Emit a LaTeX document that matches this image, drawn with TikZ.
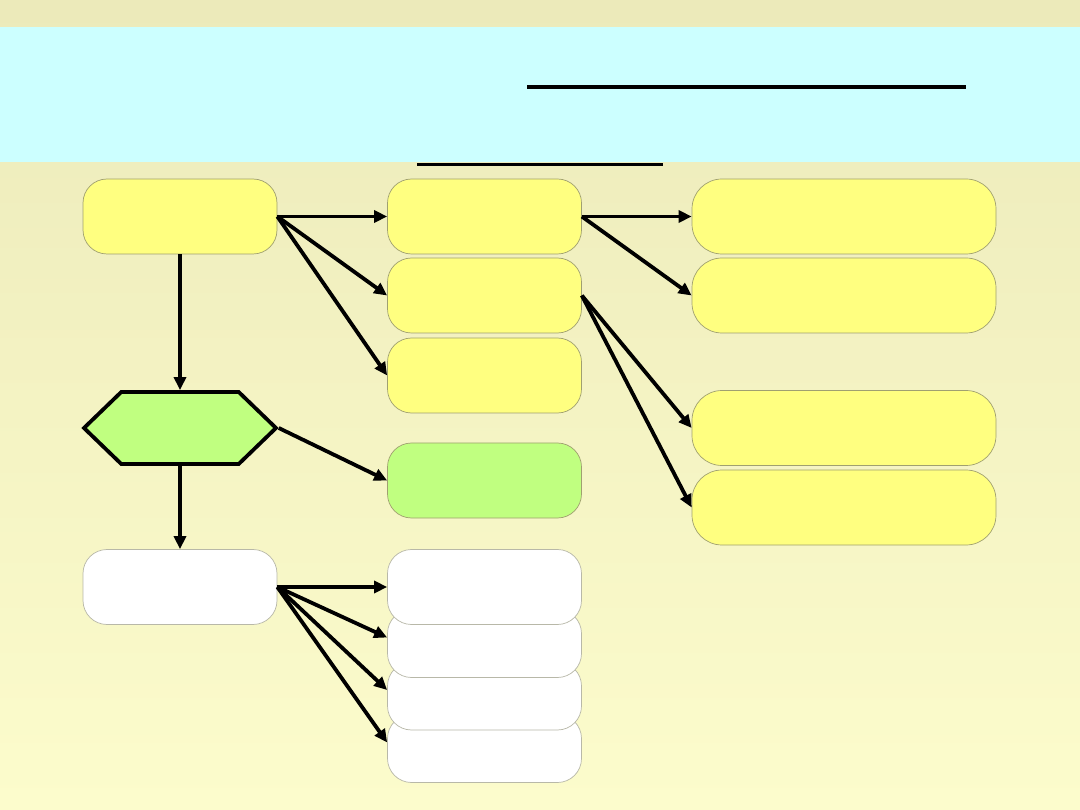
\documentclass[tikz,border=0pt]{standalone}
\usepackage{tikz}
\usetikzlibrary{positioning,arrows.meta,shapes.symbols}
\definecolor{bgTop}{HTML}{ECEABA}
\definecolor{bgBot}{HTML}{FCFCCC}
\definecolor{titleCyan}{HTML}{CCFFFF}
\definecolor{boxYellow}{HTML}{FFFF80}
\definecolor{boxGreen}{HTML}{C0FF80}
\definecolor{edgeGray}{HTML}{A0A070}
\definecolor{edgeLight}{HTML}{B8B8A8}

\begin{document}
\begin{tikzpicture}[
    x=1pt, y=-1pt,
    box/.style={draw=edgeGray, line width=0.7pt, rounded corners=24pt, minimum width=194pt, minimum height=75pt, inner sep=0pt},
    wide/.style={box, minimum width=304pt, rounded corners=30pt},
    plain/.style={box, draw=edgeLight, fill=white},
    hexa/.style={draw, line width=3.8pt, fill=boxGreen, signal, signal to=east and west, signal pointer angle=88, minimum width=192pt, minimum height=72pt, inner sep=0pt},
    arr/.style={-{Triangle[length=13pt,width=12pt]}, line width=3.8pt}
  ]
  \useasboundingbox (0,0) rectangle (1080,810);
  \shade[top color=bgTop, bottom color=bgBot] (0,0) rectangle (1080,810);
  \fill[titleCyan] (0,27) rectangle (1080,162);
  \draw[line width=4pt] (527,87) -- (966,87);
  \draw[line width=3pt] (417,165) -- (663,165);

  % left column
  \node[box, fill=boxYellow] (top)  at (180,216.5) {};
  \node[hexa]                (hex)  at (180,428) {};
  \node[plain]               (low)  at (180,587) {};

  % middle column
  \node[box, fill=boxYellow] (m1) at (484.5,216.5) {};
  \node[box, fill=boxYellow] (m2) at (484.5,295.5) {};
  \node[box, fill=boxYellow] (m3) at (484.5,375.5) {};
  \node[box, fill=boxGreen]  (mg) at (484.5,480.5) {};
  \node[plain, minimum height=68pt] (w4) at (484.5,748.5) {};
  \node[plain, minimum height=68pt] (w3) at (484.5,696) {};
  \node[plain, minimum height=68pt] (w2) at (484.5,643.5) {};
  \node[plain]                      (w1) at (484.5,587) {};

  % right column
  \node[wide, fill=boxYellow] (r1) at (844,216.5) {};
  \node[wide, fill=boxYellow] (r2) at (844,295.5) {};
  \node[wide, fill=boxYellow] (r3) at (844,428) {};
  \node[wide, fill=boxYellow] (r4) at (844,507.5) {};

  \draw[arr] (top.south) -- (hex.north);
  \draw[arr] (hex.south) -- (low.north);
  \draw[arr] (top.east) -- (m1.west);
  \draw[arr] (top.east) -- (m2.west);
  \draw[arr] (top.east) -- (m3.west);
  \draw[arr] (hex.east) -- (mg.west);
  \draw[arr] (m1.east) -- (r1.west);
  \draw[arr] (m1.east) -- (r2.west);
  \draw[arr] (m2.east) -- (r3.west);
  \draw[arr] (m2.east) -- (r4.west);
  \draw[arr] (low.east) -- (w1.west);
  \draw[arr] (low.east) -- ([yshift=6pt]w2.west);
  \draw[arr] (low.east) -- ([yshift=6pt]w3.west);
  \draw[arr] (low.east) -- ([yshift=6pt]w4.west);
\end{tikzpicture}
\end{document}
